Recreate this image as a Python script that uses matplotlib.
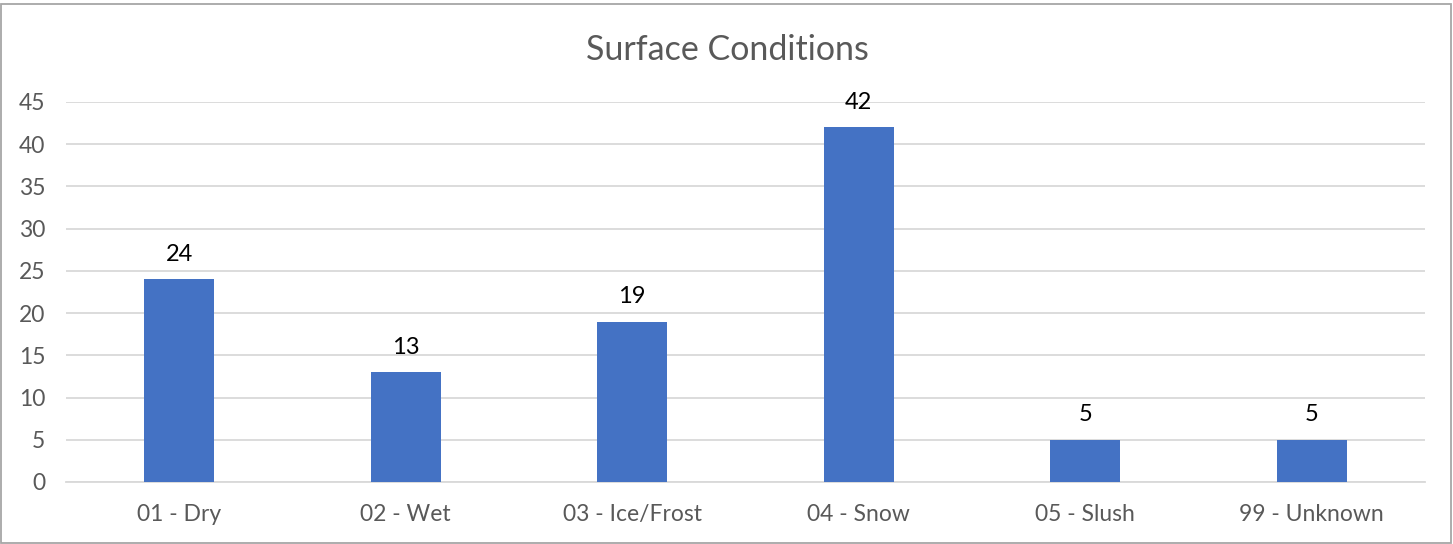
import matplotlib
matplotlib.use("Agg")
import matplotlib.pyplot as plt
from matplotlib.patches import Rectangle

categories = ["01 - Dry", "02 - Wet", "03 - Ice/Frost", "04 - Snow", "05 - Slush", "99 - Unknown"]
values = [24, 13, 19, 42, 5, 5]
yticks = [0, 5, 10, 15, 20, 25, 30, 35, 40, 45]

plt.rcParams['font.family'] = ['Lato', 'DejaVu Sans']

W, H = 1453, 544
fig = plt.figure(figsize=(W / 100, H / 100), dpi=100)
ax = fig.add_axes([66 / W, (H - 482) / H, (1425 - 66) / W, (482 - 102) / H])

x = list(range(len(categories)))
bars = ax.bar(x, values, width=0.31, color="#4472C4", zorder=3)
ax.set_xlim(-0.5, len(categories) - 0.5)
ax.set_ylim(0, 45)
ax.set_yticks(yticks)
ax.set_xticks(x)
ax.set_xticklabels(categories)

ax.grid(axis="y", color="#D9D9D9", linewidth=1.3, zorder=0)
for s in ["top", "right", "left"]:
    ax.spines[s].set_visible(False)
ax.spines["bottom"].set_color("#D9D9D9")
ax.spines["bottom"].set_linewidth(1.3)
ax.tick_params(axis="both", length=0, labelcolor="#595959", labelsize=16.5)
ax.tick_params(axis="x", pad=16)
ax.tick_params(axis="y", pad=15)

for b, v in zip(bars, values):
    ax.annotate(str(v), (b.get_x() + b.get_width() / 2, v), xytext=(0, 10.5),
                textcoords="offset points", ha="center", va="bottom",
                fontsize=17, color="black")

fig.text((586 + 868) / 2 / W, 1 - 50 / H, "Surface Conditions", ha="center", va="center",
         fontsize=24.5, color="#595959")

fig.patches.append(Rectangle((1 / W, 1 / H), (W - 3) / W, (H - 5) / H, transform=fig.transFigure,
                             fill=False, edgecolor="#A6A6A6", linewidth=1.3))

fig.savefig("out.png", dpi=100, facecolor="white")
